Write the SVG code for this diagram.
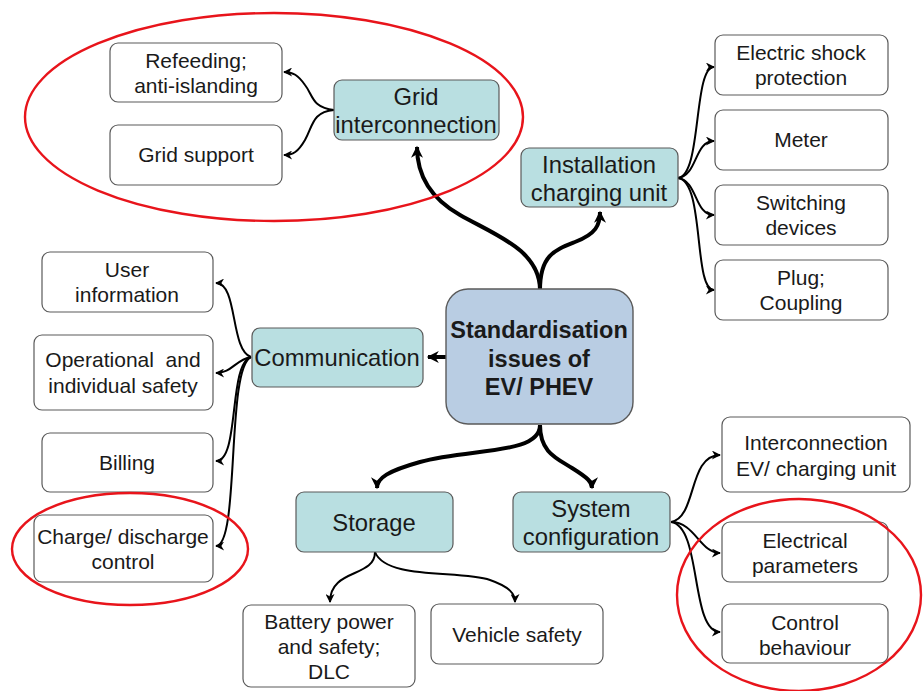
<svg xmlns="http://www.w3.org/2000/svg" width="923" height="691" viewBox="0 0 923 691">
<style>
  .w { fill: #ffffff; stroke: #5a5a5a; stroke-width: 1.2; }
  .t { fill: #b9dfe1; stroke: #5a5a5a; stroke-width: 1.2; }
  .c { fill: #b9cde3; stroke: #5a5a5a; stroke-width: 1.4; }
  text { font-family: "Liberation Sans", Arial, sans-serif; fill: #1a1a1a; text-anchor: middle; }
  .tw { font-size: 21px; }
  .tt { font-size: 23.8px; }
  .tc { font-size: 23.5px; font-weight: bold; }
  .thin { fill: none; stroke: #000; stroke-width: 2; marker-end: url(#ah); }
  .thick { fill: none; stroke: #000; stroke-width: 4; marker-end: url(#ahb); }
  .red { fill: none; stroke: #e8141b; stroke-width: 2.4; }
</style>
<defs>
  <marker id="ah" viewBox="0 0 10 10" refX="9" refY="5" markerWidth="10" markerHeight="9" markerUnits="userSpaceOnUse" orient="auto">
    <path d="M0,0 L10,5 L0,10 L3,5 z" fill="#000"/>
  </marker>
  <marker id="ahb" viewBox="0 0 10 10" refX="9" refY="5" markerWidth="13" markerHeight="12" markerUnits="userSpaceOnUse" orient="auto">
    <path d="M0,0 L10,5 L0,10 L3,5 z" fill="#000"/>
  </marker>
</defs>

<g id="connectors">
  <!-- center to main topics -->
  <path class="thick" d="M540,290 C540,250 495,235 460,215 C430,198 417,175 417,147"/>
  <path class="thick" d="M540,290 C540,255 555,250 575,242 C596,234 600,225 600,212"/>
  <path class="thick" d="M446,357 L428,357"/>
  <path class="thick" d="M540,425 C540,455 470,448 420,462 C388,471 377,478 377,488"/>
  <path class="thick" d="M540,425 C540,452 556,458 572,468 C588,478 592,482 592,488"/>
  <!-- grid interconnection -->
  <path class="thin" d="M334,110 C312,108 313,95 305,85 C298,75 293,72 284,72"/>
  <path class="thin" d="M334,110 C312,112 313,126 305,140 C298,152 293,155 284,155"/>
  <!-- installation -->
  <path class="thin" d="M678,178 C702,176 693,67 714,67"/>
  <path class="thin" d="M678,178 C698,175 694,141 714,141"/>
  <path class="thin" d="M678,178 C698,181 694,215 714,215"/>
  <path class="thin" d="M678,178 C705,181 693,290 714,290"/>
  <!-- communication -->
  <path class="thin" d="M251,357 C230,350 238,283 216,283"/>
  <path class="thin" d="M251,357 C235,360 232,373 216,373"/>
  <path class="thin" d="M251,357 C228,364 240,461 216,461"/>
  <path class="thin" d="M251,357 C226,368 240,546 216,546"/>
  <!-- storage -->
  <path class="thin" d="M375,552 C375,578 330,568 330,602"/>
  <path class="thin" d="M375,552 C386,580 460,570 490,580 C510,587 515,594 515,602"/>
  <!-- system configuration -->
  <path class="thin" d="M671,522 C697,518 688,455 720,455"/>
  <path class="thin" d="M671,522 C695,522 700,553 720,553"/>
  <path class="thin" d="M671,522 C702,526 690,632 720,632"/>
</g>

<g id="center">
  <rect class="c" x="446" y="289" width="187" height="135" rx="22"/>
  <text class="tc" x="539" y="338">Standardisation</text>
  <text class="tc" x="539" y="367">issues of</text>
  <text class="tc" x="539" y="395">EV/ PHEV</text>
</g>

<g id="grid-interconnection">
  <rect class="t" x="334" y="80" width="165" height="60" rx="8"/>
  <text class="tt" x="416" y="105">Grid</text>
  <text class="tt" x="416" y="133">interconnection</text>
</g>
<g id="refeeding">
  <rect class="w" x="110" y="43" width="172" height="59" rx="8"/>
  <text class="tw" x="196" y="68">Refeeding;</text>
  <text class="tw" x="196" y="93">anti-islanding</text>
</g>
<g id="grid-support">
  <rect class="w" x="110" y="125" width="172" height="60" rx="8"/>
  <text class="tw" x="196" y="162">Grid support</text>
</g>

<g id="installation">
  <rect class="t" x="521" y="148" width="157" height="59" rx="8"/>
  <text class="tt" x="599" y="173">Installation</text>
  <text class="tt" x="599" y="201">charging unit</text>
</g>
<g id="electric-shock">
  <rect class="w" x="715" y="35" width="173" height="60" rx="8"/>
  <text class="tw" x="801" y="60">Electric shock</text>
  <text class="tw" x="801" y="85">protection</text>
</g>
<g id="meter">
  <rect class="w" x="715" y="110" width="173" height="60" rx="8"/>
  <text class="tw" x="801" y="147">Meter</text>
</g>
<g id="switching">
  <rect class="w" x="715" y="185" width="173" height="60" rx="8"/>
  <text class="tw" x="801" y="210">Switching</text>
  <text class="tw" x="801" y="235">devices</text>
</g>
<g id="plug">
  <rect class="w" x="715" y="260" width="173" height="60" rx="8"/>
  <text class="tw" x="801" y="285">Plug;</text>
  <text class="tw" x="801" y="310">Coupling</text>
</g>

<g id="communication">
  <rect class="t" x="252" y="328" width="171" height="59" rx="8"/>
  <text class="tt" x="337" y="366">Communication</text>
</g>
<g id="user-information">
  <rect class="w" x="42" y="252" width="171" height="60" rx="8"/>
  <text class="tw" x="127" y="277">User</text>
  <text class="tw" x="127" y="302">information</text>
</g>
<g id="operational">
  <rect class="w" x="34" y="335" width="179" height="75" rx="8"/>
  <text class="tw" x="123" y="367" xml:space="preserve">Operational  and</text>
  <text class="tw" x="123" y="393">individual safety</text>
</g>
<g id="billing">
  <rect class="w" x="42" y="433" width="171" height="59" rx="8"/>
  <text class="tw" x="127" y="470">Billing</text>
</g>
<g id="charge-discharge">
  <rect class="w" x="34" y="515" width="179" height="67" rx="8"/>
  <text class="tw" x="123" y="544">Charge/ discharge</text>
  <text class="tw" x="123" y="569">control</text>
</g>

<g id="storage">
  <rect class="t" x="296" y="492" width="157" height="60" rx="8"/>
  <text class="tt" x="374" y="531">Storage</text>
</g>
<g id="battery">
  <rect class="w" x="243" y="605" width="172" height="82" rx="8"/>
  <text class="tw" x="329" y="629">Battery power</text>
  <text class="tw" x="329" y="654">and safety;</text>
  <text class="tw" x="329" y="679">DLC</text>
</g>
<g id="vehicle-safety">
  <rect class="w" x="431" y="604" width="172" height="60" rx="8"/>
  <text class="tw" x="517" y="642">Vehicle safety</text>
</g>

<g id="system-configuration">
  <rect class="t" x="513" y="492" width="157" height="60" rx="8"/>
  <text class="tt" x="591" y="517">System</text>
  <text class="tt" x="591" y="545">configuration</text>
</g>
<g id="interconnection-ev">
  <rect class="w" x="722" y="417" width="188" height="75" rx="8"/>
  <text class="tw" x="816" y="450">Interconnection</text>
  <text class="tw" x="816" y="476">EV/ charging unit</text>
</g>
<g id="electrical-parameters">
  <rect class="w" x="722" y="522" width="166" height="60" rx="8"/>
  <text class="tw" x="805" y="548">Electrical</text>
  <text class="tw" x="805" y="573">parameters</text>
</g>
<g id="control-behaviour">
  <rect class="w" x="722" y="604" width="166" height="59" rx="8"/>
  <text class="tw" x="805" y="630">Control</text>
  <text class="tw" x="805" y="655">behaviour</text>
</g>

<g id="highlights">
  <ellipse class="red" cx="274" cy="117" rx="249" ry="104"/>
  <ellipse class="red" cx="130" cy="549" rx="118" ry="56"/>
  <ellipse class="red" cx="799" cy="595" rx="122" ry="96"/>
</g>
</svg>
